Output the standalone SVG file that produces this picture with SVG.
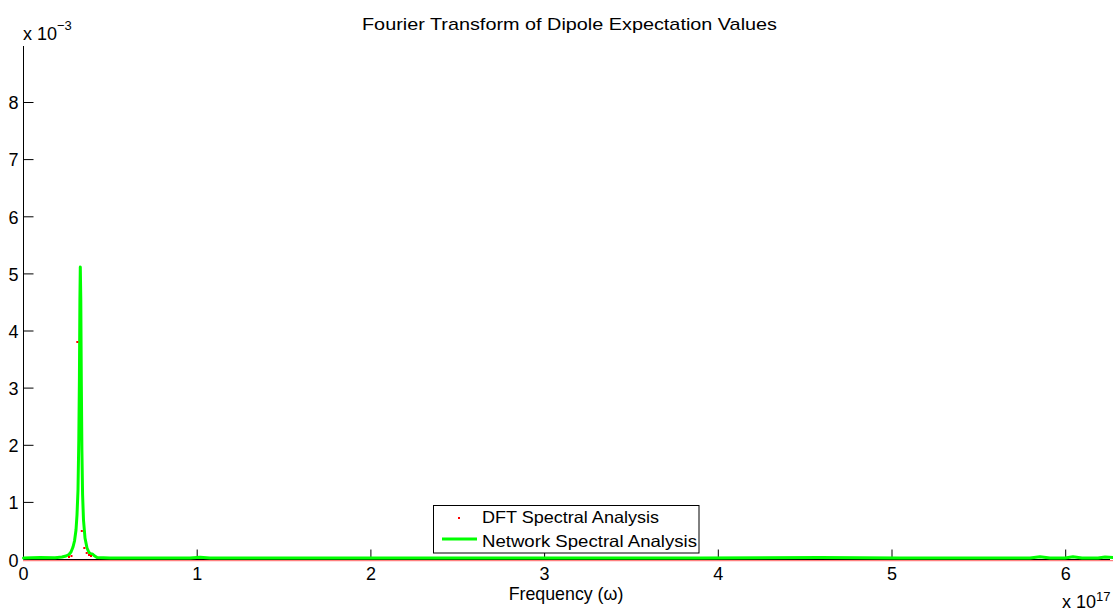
<svg xmlns="http://www.w3.org/2000/svg" width="1113" height="612" viewBox="0 0 1113 612">
  <style>
    text { font-family: "Liberation Sans", Arial, Helvetica, sans-serif; fill: #000; }
    .tick { font-size: 18px; }
    .ylab { text-anchor: end; }
    .xlab { text-anchor: middle; }
    .axis { stroke: #000; stroke-width: 1; fill: none; }
    .net { stroke: #00ff00; stroke-width: 3; fill: none; stroke-linejoin: round; stroke-linecap: round; }
    .dft { fill: #ff0000; }
  </style>
  <defs>
    <marker id="dot" viewBox="0 0 2 2" refX="1" refY="1" markerWidth="2" markerHeight="2" markerUnits="userSpaceOnUse">
      <rect width="2" height="2" fill="#ff0000"/>
    </marker>
  </defs>

  <rect width="1113" height="612" fill="#ffffff"/>

  <!-- title -->
  <text id="title" x="362" y="30" font-size="17" textLength="415" lengthAdjust="spacingAndGlyphs">Fourier Transform of Dipole Expectation Values</text>

  <!-- axes -->
  <g id="axes" class="axis">
    <path d="M23.5,46 V559.5 H1110"/>
    <!-- y ticks, 1e-3 per 57.125 px -->
    <path d="M23.5,502.4 h10 M23.5,445.3 h10 M23.5,388.1 h10 M23.5,331 h10 M23.5,273.9 h10 M23.5,216.8 h10 M23.5,159.6 h10 M23.5,102.5 h10"/>
    <!-- x ticks, 1e17 per 173.7 px -->
    <path d="M197.2,559.5 v-10 M370.9,559.5 v-10 M544.6,559.5 v-10 M718.3,559.5 v-10 M892,559.5 v-10 M1065.7,559.5 v-10"/>
  </g>

  <!-- y tick labels -->
  <g id="ylabels" class="tick ylab">
    <text x="18.5" y="567">0</text>
    <text x="18.5" y="509">1</text>
    <text x="18.5" y="452">2</text>
    <text x="18.5" y="394.5">3</text>
    <text x="18.5" y="337.5">4</text>
    <text x="18.5" y="280.5">5</text>
    <text x="18.5" y="223.5">6</text>
    <text x="18.5" y="166">7</text>
    <text x="18.5" y="109">8</text>
  </g>
  <text id="yscale" x="23" y="40" font-size="18">x 10<tspan dy="-10" font-size="13">−3</tspan></text>

  <!-- x tick labels -->
  <g id="xlabels" class="tick xlab">
    <text x="23.5" y="580">0</text>
    <text x="197.2" y="580">1</text>
    <text x="370.9" y="580">2</text>
    <text x="544.6" y="580">3</text>
    <text x="718.3" y="580">4</text>
    <text x="892" y="580">5</text>
    <text x="1065.7" y="580">6</text>
  </g>
  <text id="xscale" x="1062" y="608" font-size="18">x 10<tspan dy="-7" font-size="13">17</tspan></text>
  <text id="xtitle" x="566" y="600" font-size="17.8" text-anchor="middle">Frequency (ω)</text>

  <!-- data series -->
  <g id="series">
    <!-- DFT samples along the baseline -->
    <line x1="23.5" y1="560.6" x2="1113" y2="560.6" stroke="#ff0000" stroke-width="1.3" stroke-dasharray="1 1"/>
    <!-- network spectrum -->
    <path class="net" d="M23.5,558 L40,557.6 L55,557.8 L62,557 L66,556 L69,554.5 L71,552 L73,547 L74.5,541 L76,530 L77,515 L78,490 L78.8,440 L79.4,380 L79.9,300 L80.3,267 L80.8,300 L81.3,380 L81.9,450 L82.6,495 L83.5,520 L85,538 L87,548 L89,552.5 L91,554 L92.5,554 L94,555.5 L97,557.5 L110,558 L190,558 L200,557.3 L210,558 L700,558 L820,557.6 L900,558 L1030,558 L1040,556.8 L1050,558 L1065,558 L1073,556.8 L1082,558 L1098,558 L1105,557 L1113,557.6"/>
    <!-- DFT samples around the peak -->
    <g class="dft">
      <rect x="68" y="556" width="2" height="2"/>
      <rect x="70.5" y="555" width="2" height="2"/>
      <rect x="76.3" y="341" width="2" height="2"/>
      <rect x="80.8" y="530" width="2" height="2"/>
      <rect x="83.3" y="547" width="2" height="2"/>
      <rect x="85.7" y="552" width="2" height="2"/>
      <rect x="88" y="554" width="2" height="2"/>
      <rect x="90" y="555" width="2" height="2"/>
    </g>
  </g>

  <!-- legend -->
  <g id="legend">
    <rect x="433.5" y="505.5" width="265.5" height="47.5" fill="#ffffff" stroke="#000" stroke-width="1"/>
    <rect x="458" y="517" width="2" height="2" fill="#ff0000"/>
    <text x="482" y="523.3" font-size="16.5" textLength="177" lengthAdjust="spacingAndGlyphs">DFT Spectral Analysis</text>
    <line x1="442" y1="539" x2="477" y2="539" stroke="#00ff00" stroke-width="3"/>
    <text x="482" y="546.7" font-size="16.5" textLength="215" lengthAdjust="spacingAndGlyphs">Network Spectral Analysis</text>
  </g>
</svg>
